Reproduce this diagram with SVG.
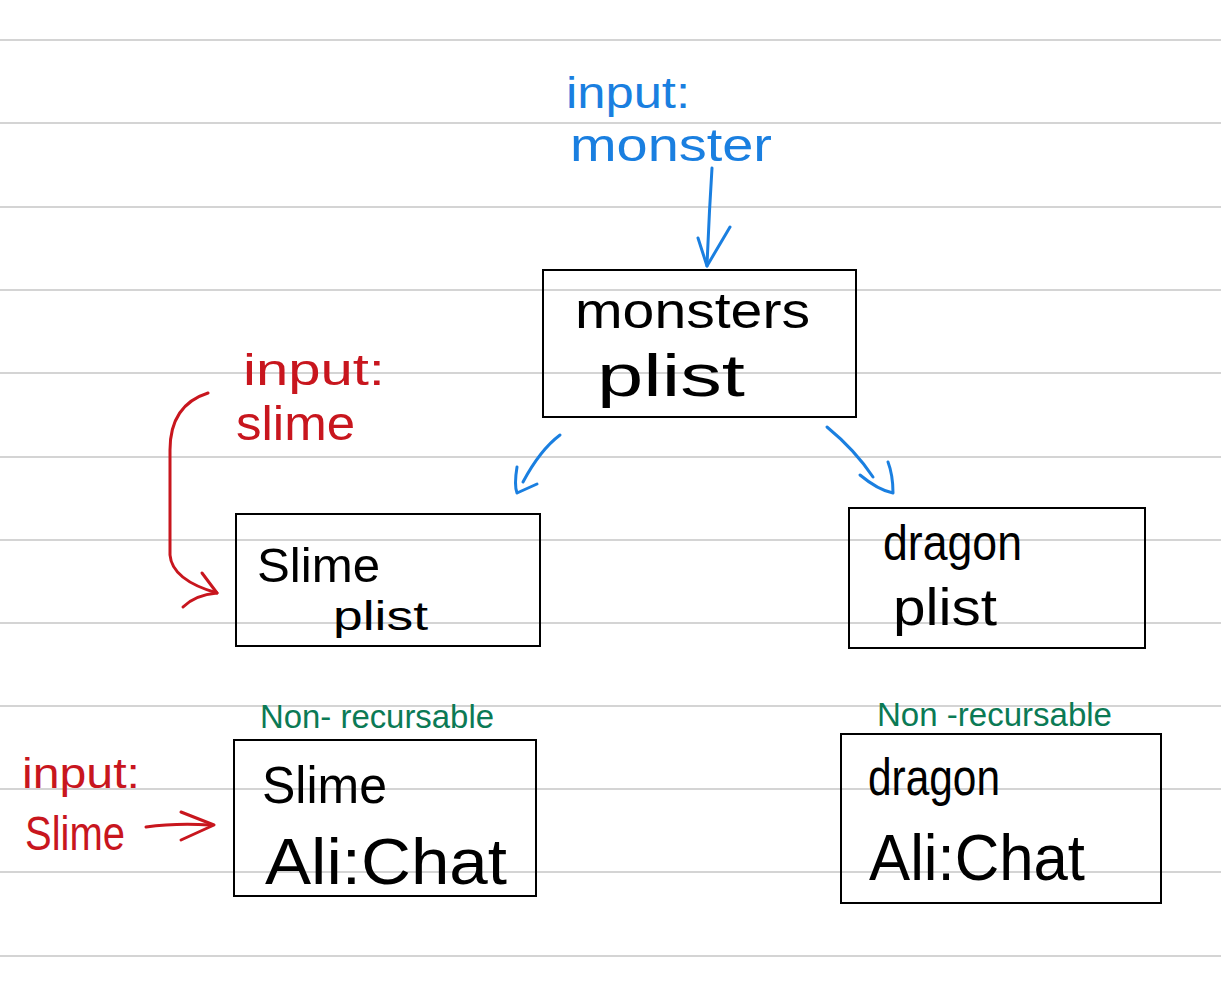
<svg xmlns="http://www.w3.org/2000/svg" width="1221" height="1000" viewBox="0 0 1221 1000">
<style>
.rule{stroke:#d4d4d4;stroke-width:2}
.box{fill:none;stroke:#000;stroke-width:2}
text{font-family:"Liberation Sans",Arial,sans-serif}
.k{fill:#000}
.b{fill:#1a7fe0}
.r{fill:#c8161e}
.g{fill:#0b7a55}
.bl{fill:none;stroke:#1a7fe0;stroke-width:3;stroke-linecap:round;stroke-linejoin:round}
.rd{fill:none;stroke:#c8161e;stroke-width:3;stroke-linecap:round;stroke-linejoin:round}
</style>
<rect width="1221" height="1000" fill="#fff"/>
<g id="rules">
<line class="rule" x1="0" y1="40" x2="1221" y2="40"/>
<line class="rule" x1="0" y1="123" x2="1221" y2="123"/>
<line class="rule" x1="0" y1="207" x2="1221" y2="207"/>
<line class="rule" x1="0" y1="290" x2="1221" y2="290"/>
<line class="rule" x1="0" y1="373" x2="1221" y2="373"/>
<line class="rule" x1="0" y1="457" x2="1221" y2="457"/>
<line class="rule" x1="0" y1="540" x2="1221" y2="540"/>
<line class="rule" x1="0" y1="623" x2="1221" y2="623"/>
<line class="rule" x1="0" y1="706" x2="1221" y2="706"/>
<line class="rule" x1="0" y1="789" x2="1221" y2="789"/>
<line class="rule" x1="0" y1="872" x2="1221" y2="872"/>
<line class="rule" x1="0" y1="956" x2="1221" y2="956"/>
</g>
<g id="labels">
<text class="b" x="566" y="108" font-size="44" textLength="124" lengthAdjust="spacingAndGlyphs">input:</text>
<text class="b" x="570" y="161" font-size="46" textLength="202" lengthAdjust="spacingAndGlyphs">monster</text>
<text class="r" x="243" y="385" font-size="44" textLength="142" lengthAdjust="spacingAndGlyphs">input:</text>
<text class="r" x="236" y="440" font-size="48" textLength="119" lengthAdjust="spacingAndGlyphs">slime</text>
<text class="g" x="260" y="728" font-size="34" textLength="234" lengthAdjust="spacingAndGlyphs">Non- recursable</text>
<text class="g" x="877" y="726" font-size="34" textLength="235" lengthAdjust="spacingAndGlyphs">Non -recursable</text>
<text class="r" x="22" y="788" font-size="42" textLength="118" lengthAdjust="spacingAndGlyphs">input:</text>
<text class="r" x="25" y="850" font-size="48" textLength="100" lengthAdjust="spacingAndGlyphs">Slime</text>
</g>
<g id="node-monsters">
<rect class="box" x="543" y="270" width="313" height="147"/>
<text class="k" x="575" y="328" font-size="50" textLength="235" lengthAdjust="spacingAndGlyphs">monsters</text>
<text class="k" x="597" y="396" font-size="60" textLength="148" lengthAdjust="spacingAndGlyphs">plist</text>
</g>
<g id="node-slime-plist">
<rect class="box" x="236" y="514" width="304" height="132"/>
<text class="k" x="257" y="582" font-size="48" textLength="123" lengthAdjust="spacingAndGlyphs">Slime</text>
<text class="k" x="333" y="630" font-size="40" textLength="95" lengthAdjust="spacingAndGlyphs">plist</text>
</g>
<g id="node-dragon-plist">
<rect class="box" x="849" y="508" width="296" height="140"/>
<text class="k" x="883" y="560" font-size="50" textLength="139" lengthAdjust="spacingAndGlyphs">dragon</text>
<text class="k" x="893" y="625" font-size="52" textLength="104" lengthAdjust="spacingAndGlyphs">plist</text>
</g>
<g id="node-slime-alichat">
<rect class="box" x="234" y="740" width="302" height="156"/>
<text class="k" x="262" y="803" font-size="52" textLength="125" lengthAdjust="spacingAndGlyphs">Slime</text>
<text class="k" x="265" y="884" font-size="64" textLength="242" lengthAdjust="spacingAndGlyphs">Ali:Chat</text>
</g>
<g id="node-dragon-alichat">
<rect class="box" x="841" y="734" width="320" height="169"/>
<text class="k" x="868" y="795" font-size="52" textLength="132" lengthAdjust="spacingAndGlyphs">dragon</text>
<text class="k" x="869" y="880" font-size="64" textLength="216" lengthAdjust="spacingAndGlyphs">Ali:Chat</text>
</g>
<g id="connectors">
<path class="bl" d="M712 168 Q709 215 707 266"/>
<path class="bl" d="M698 238 L707 266 L730 227"/>
<path class="bl" d="M560 435 Q540 450 523 482"/>
<path class="bl" d="M517 467 Q514 485 517 493 L537 484"/>
<path class="bl" d="M827 427 Q855 450 873 477"/>
<path class="bl" d="M860 475 Q878 490 893 493 Q893 475 888 462"/>
<path class="rd" d="M208 393 Q170 405 170 450 L170 555 Q172 580 217 593"/>
<path class="rd" d="M202 573 L217 593 Q195 595 183 607"/>
<path class="rd" d="M146 827 Q175 823 210 825"/>
<path class="rd" d="M181 812 L214 825 L181 840"/>
</g>
</svg>
